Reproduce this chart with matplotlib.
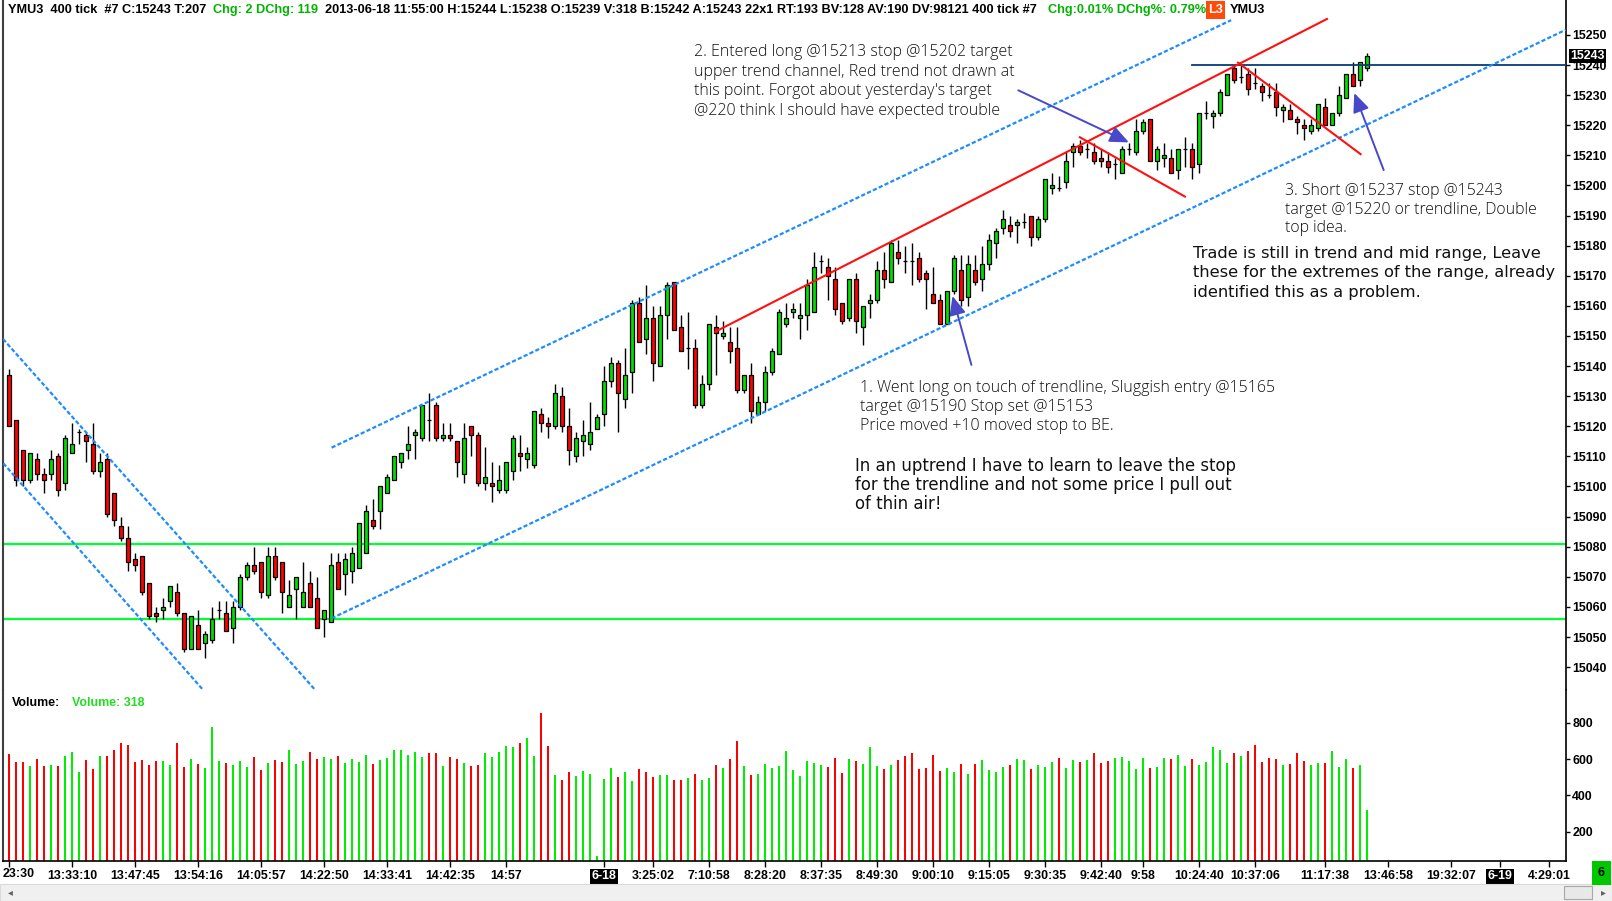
import numpy as np
import matplotlib
matplotlib.use("Agg")
import matplotlib.pyplot as plt
import matplotlib.transforms as mtransforms
from matplotlib.patches import FancyArrowPatch, Rectangle

W, H = 1612, 901

# ---- candle data (400 tick bars, YMU3) ----
opens = [15137, 15122, 15112, 15102, 15109, 15104, 15104, 15110, 15101, 15111,
         15118, 15117, 15114, 15105, 15109, 15098, 15087, 15083, 15076, 15077,
         15068, 15058, 15059, 15062, 15065, 15058, 15046, 15054, 15048, 15049,
         15059, 15058, 15053, 15060, 15070, 15074, 15075, 15064, 15077, 15075,
         15060, 15066, 15060, 15068, 15063, 15056, 15055, 15075, 15071, 15072,
         15073, 15078, 15089, 15092, 15098, 15102, 15108, 15112, 15117, 15116,
         15122, 15127, 15116, 15117, 15115, 15104, 15120, 15117, 15101, 15101,
         15099, 15099, 15105, 15111, 15109, 15107, 15124, 15121, 15120, 15130,
         15120, 15110, 15115, 15114, 15119, 15124, 15135, 15141, 15129, 15138,
         15161, 15149, 15156, 15140, 15157, 15168, 15153, 15146, 15146, 15127,
         15134, 15153, 15150, 15148, 15146, 15132, 15137, 15124, 15128, 15138,
         15144, 15154, 15158, 15156, 15157, 15158, 15175, 15173, 15169, 15161,
         15156, 15169, 15153, 15161, 15162, 15172, 15168, 15178, 15175, 15175,
         15176, 15171, 15164, 15162, 15154, 15165, 15172, 15163, 15172, 15169,
         15174, 15181, 15186, 15187, 15187, 15188, 15190, 15183, 15189, 15199,
         15199, 15201, 15211, 15213, 15212, 15211, 15209, 15208, 15207, 15204,
         15212, 15211, 15218, 15222, 15208, 15209, 15209, 15205, 15212, 15212,
         15207, 15224, 15223, 15224, 15230, 15239, 15236, 15237, 15234, 15233,
         15230, 15231, 15225, 15225, 15222, 15220, 15218, 15219, 15226, 15220,
         15224, 15229, 15237, 15235, 15239]
highs = [15139, 15122, 15112, 15111, 15111, 15106, 15112, 15111, 15117, 15121,
         15119, 15118, 15121, 15111, 15111, 15098, 15090, 15087, 15078, 15077,
         15068, 15060, 15063, 15067, 15068, 15058, 15057, 15059, 15052, 15060,
         15062, 15062, 15062, 15071, 15075, 15080, 15075, 15080, 15080, 15075,
         15069, 15070, 15075, 15072, 15070, 15059, 15078, 15078, 15078, 15080,
         15088, 15094, 15096, 15100, 15104, 15110, 15111, 15120, 15119, 15127,
         15131, 15128, 15121, 15121, 15115, 15121, 15120, 15118, 15113, 15108,
         15107, 15108, 15117, 15117, 15113, 15125, 15126, 15123, 15134, 15133,
         15126, 15118, 15122, 15128, 15124, 15140, 15143, 15142, 15146, 15162,
         15163, 15167, 15160, 15160, 15168, 15168, 15157, 15158, 15149, 15137,
         15154, 15157, 15155, 15153, 15153, 15137, 15141, 15130, 15140, 15146,
         15159, 15161, 15161, 15161, 15169, 15178, 15177, 15176, 15173, 15161,
         15169, 15171, 15160, 15164, 15175, 15178, 15182, 15182, 15180, 15181,
         15178, 15172, 15173, 15164, 15165, 15177, 15177, 15177, 15177, 15180,
         15184, 15186, 15192, 15190, 15189, 15191, 15190, 15190, 15202, 15204,
         15203, 15211, 15214, 15215, 15214, 15214, 15212, 15211, 15209, 15213,
         15214, 15222, 15222, 15222, 15213, 15214, 15212, 15212, 15216, 15214,
         15224, 15228, 15225, 15232, 15237, 15240, 15240, 15239, 15239, 15234,
         15234, 15234, 15227, 15227, 15223, 15222, 15222, 15227, 15229, 15224,
         15233, 15237, 15241, 15241, 15244]
lows = [15120, 15100, 15100, 15101, 15102, 15098, 15102, 15097, 15099, 15111,
        15114, 15108, 15104, 15103, 15090, 15087, 15082, 15072, 15072, 15064,
        15056, 15055, 15056, 15060, 15057, 15045, 15046, 15046, 15043, 15048,
        15056, 15052, 15048, 15059, 15069, 15071, 15063, 15063, 15069, 15058,
        15060, 15056, 15060, 15060, 15053, 15050, 15055, 15066, 15064, 15068,
        15073, 15078, 15086, 15086, 15098, 15102, 15106, 15109, 15109, 15115,
        15115, 15115, 15115, 15115, 15103, 15101, 15110, 15100, 15099, 15095,
        15098, 15098, 15102, 15105, 15106, 15106, 15118, 15116, 15119, 15118,
        15107, 15108, 15110, 15112, 15119, 15120, 15133, 15118, 15126, 15131,
        15148, 15144, 15135, 15140, 15149, 15152, 15145, 15139, 15126, 15126,
        15132, 15137, 15149, 15141, 15131, 15131, 15121, 15124, 15125, 15137,
        15144, 15153, 15156, 15149, 15152, 15158, 15171, 15162, 15157, 15154,
        15155, 15151, 15147, 15156, 15161, 15166, 15168, 15174, 15171, 15167,
        15168, 15159, 15161, 15154, 15154, 15164, 15160, 15160, 15167, 15165,
        15172, 15176, 15184, 15183, 15181, 15186, 15180, 15182, 15188, 15197,
        15198, 15199, 15206, 15210, 15209, 15207, 15206, 15204, 15202, 15204,
        15210, 15210, 15217, 15208, 15205, 15206, 15204, 15202, 15206, 15202,
        15204, 15222, 15219, 15223, 15230, 15234, 15234, 15230, 15232, 15228,
        15229, 15223, 15221, 15222, 15217, 15215, 15217, 15218, 15220, 15220,
        15223, 15229, 15233, 15233, 15238]
closes = [15120, 15102, 15102, 15111, 15104, 15102, 15109, 15099, 15116, 15114,
          15118, 15115, 15105, 15108, 15091, 15089, 15083, 15075, 15074, 15065,
          15057, 15057, 15060, 15067, 15058, 15046, 15057, 15046, 15051, 15056,
          15059, 15052, 15060, 15070, 15074, 15072, 15065, 15077, 15070, 15065,
          15064, 15070, 15065, 15060, 15053, 15059, 15074, 15066, 15076, 15078,
          15088, 15092, 15087, 15100, 15103, 15110, 15111, 15114, 15118, 15127,
          15122, 15116, 15117, 15116, 15108, 15116, 15117, 15101, 15103, 15100,
          15102, 15108, 15116, 15110, 15111, 15125, 15121, 15120, 15131, 15120,
          15112, 15116, 15117, 15118, 15123, 15135, 15141, 15131, 15137, 15161,
          15148, 15156, 15141, 15157, 15167, 15152, 15145, 15146, 15127, 15134,
          15154, 15151, 15151, 15145, 15132, 15137, 15125, 15128, 15138, 15145,
          15158, 15156, 15159, 15157, 15167, 15173, 15175, 15170, 15159, 15155,
          15169, 15155, 15160, 15162, 15172, 15169, 15181, 15176, 15175, 15175,
          15169, 15169, 15161, 15154, 15165, 15176, 15162, 15174, 15168, 15174,
          15182, 15185, 15189, 15185, 15188, 15188, 15183, 15189, 15202, 15200,
          15199, 15208, 15213, 15211, 15212, 15208, 15208, 15206, 15207, 15212,
          15212, 15218, 15221, 15208, 15212, 15210, 15204, 15212, 15212, 15206,
          15224, 15224, 15224, 15231, 15237, 15235, 15236, 15232, 15234, 15231,
          15230, 15226, 15226, 15222, 15221, 15219, 15220, 15227, 15220, 15224,
          15230, 15237, 15233, 15241, 15243]
volumes = [628, 586, 586, 562, 601, 562, 568, 562, 617, 639,
           529, 595, 546, 617, 617, 650, 689, 678, 584, 595,
           568, 590, 590, 568, 689, 557, 601, 573, 551, 777,
           590, 579, 568, 590, 557, 612, 540, 579, 595, 584,
           650, 573, 590, 639, 601, 612, 601, 617, 579, 601,
           584, 623, 573, 595, 606, 650, 650, 623, 639, 612,
           634, 634, 562, 612, 601, 579, 562, 568, 634, 612,
           639, 672, 667, 689, 716, 617, 856, 672, 513, 485,
           529, 507, 535, 518, 66, 491, 551, 502, 529, 480,
           546, 529, 502, 513, 513, 485, 485, 496, 518, 485,
           496, 568, 551, 601, 700, 562, 513, 518, 573, 551,
           562, 645, 540, 507, 590, 579, 568, 557, 606, 524,
           601, 590, 573, 667, 562, 546, 568, 595, 617, 634,
           546, 551, 623, 535, 551, 529, 573, 518, 573, 595,
           540, 529, 557, 568, 601, 595, 546, 568, 557, 584,
           606, 551, 595, 584, 595, 634, 579, 590, 606, 612,
           590, 546, 606, 551, 557, 606, 601, 623, 562, 601,
           568, 584, 667, 650, 579, 634, 617, 645, 678, 584,
           606, 601, 568, 573, 634, 590, 568, 579, 579, 645,
           557, 601, 551, 568, 318]
vol_dirs = ("rrrgrrgrgg" "grrgrrrrrr" "rrggrrgrgg" "grgggrrgrr" "gggrrggrgg"
            "ggrggggggg" "rrgrrgrrgg" "gggrggrrgr" "rggggggrgg" "rrrggrrgrg"
            "grgrrgrggg" "gggggggrrr" "grgggrgrrr" "rrrrggrgrg" "gggrggrggg"
            "rggrgrrrgg" "gggrggrggr" "gggggrgrrr" "rrgrrrggrg" "ggrgg")

price_ticks = list(range(15040, 15251, 10))
vol_ticks = [200, 400, 600, 800]
time_ticks = [1, 10, 19, 28, 37, 46, 55, 64, 72, 86, 93, 101, 109, 117, 125,
              133, 141, 149, 157, 163, 171, 179, 189, 198, 207, 214, 221]
time_labels = ["", "13:33:10", "13:47:45", "13:54:16", "14:05:57", "14:22:50",
               "14:33:41", "14:42:35", "14:57", "6-18", "3:25:02", "7:10:58",
               "8:28:20", "8:37:35", "8:49:30", "9:00:10", "9:15:05", "9:30:35",
               "9:42:40", "9:58", "10:24:40", "10:37:06", "11:17:38", "13:46:58",
               "19:32:07", "6-19", "4:29:01"]
date_labels = ["6-18", "6-19"]
last_price = 15243
green_levels = [15081, 15056]
top_level = 15240
top_level_start = 170.0

# drawn lines, (bar index list, price list)
chan_up = ([47.1, 175.6], [15112.9, 15254.9])
chan_lo = ([47.1, 223.4], [15056.2, 15251.7])
down_a = ([0.16, 45.3], [15149.0, 15031.0])
down_b = ([0.2, 28.6], [15107.7, 15032.8])
red_trend = ([101.9, 189.3], [15151.4, 15255.3])
red_down1 = ([154.0, 169.0], [15216.0, 15196.3])
red_down2 = ([176.6, 194.1], [15240.8, 15210.4])

arrows = [((145.2, 15231.6), (161.0, 15214.3)),
          ((138.5, 15140.4), (135.8, 15163.3)),
          ((197.4, 15205.1), (193.2, 15230.7))]

note2 = ["2. Entered long @15213 stop @15202 target",
         "upper trend channel, Red trend not drawn at",
         "this point. Forgot about yesterday's target",
         "@220 think I should have expected trouble"]
note1 = ["1. Went long on touch of trendline, Sluggish entry @15165",
         "target @15190 Stop set @15153",
         "Price moved +10 moved stop to BE."]
note_lesson = ["In an uptrend I have to learn to leave the stop",
               "for the trendline and not some price I pull out",
               "of thin air!"]
note3 = ["3. Short @15237 stop @15243",
         "target @15220 or trendline, Double",
         "top idea."]
note_trade = ["Trade is still in trend and mid range, Leave",
              "these for the extremes of the range, already",
              "identified this as a problem."]

header_parts = [("YMU3  400 tick  #7 C:15243 T:207", "black", 8),
                ("Chg: 2 DChg: 119", "#00B400", 213),
                ("2013-06-18 11:55:00 H:15244 L:15238 O:15239 V:318 B:15242 "
                 "A:15243 22x1 RT:193 BV:128 AV:190 DV:98121 400 tick #7", "black", 325),
                ("Chg:0.01% DChg%: 0.79%", "#00B400", 1048),
                ("YMU3", "black", 1230)]

UP, DOWN = "#00E000", "#FF0000"
BLUE = "#1E8CFF"
ARROW = "#4848C8"


def fx(px):
    return px / W


def fy(py):
    return 1 - py / H


fig = plt.figure(figsize=(W / 100, H / 100), dpi=100)
fig.patch.set_facecolor("white")
renderer = fig.canvas.get_renderer()

ax_p = fig.add_axes([fx(3), fy(690), (1566 - 3) / W, 690 / H])
ax_v = fig.add_axes([fx(3), fy(861), (1566 - 3) / W, (861 - 690) / H], sharex=ax_p)

xmin, xmax = (3 - 8.9) / 7 + 1, (1566 - 8.9) / 7 + 1
ax_p.set_xlim(xmin, xmax)
ax_p.set_ylim(15032.4, 15261.6)
ax_v.set_ylim(38.6, 981)

x = np.arange(1, len(opens) + 1)
o, h, l, c = map(np.array, (opens, highs, lows, closes))

# candles
ax_p.vlines(x, l, h, color="black", lw=1, zorder=3)
body_col = np.where(c > o, UP, np.where(c < o, DOWN, "black"))
ax_p.bar(x, c - o, bottom=o, width=0.62, color=body_col,
         edgecolor="black", linewidth=0.9, zorder=4)

# levels and trendlines
for lv in green_levels:
    ax_p.axhline(lv, color="#00FF33", lw=1.6, zorder=2)
ax_p.plot([top_level_start, xmax], [top_level, top_level], color="#0A3A78", lw=1.3, zorder=5)
for xs, ys in (chan_up, chan_lo, down_a, down_b):
    ax_p.plot(xs, ys, color=BLUE, lw=1.6, ls=(0, (1.9, 1.0)), zorder=5)
for xs, ys in (red_trend, red_down1, red_down2):
    ax_p.plot(xs, ys, color="#FF1010", lw=1.5, zorder=5)

for start, end in arrows:
    ax_p.add_patch(FancyArrowPatch(start, end, arrowstyle="-|>,head_length=1.15,head_width=0.5",
                                   mutation_scale=10, color=ARROW, lw=1.4,
                                   shrinkA=0, shrinkB=0, zorder=6))

# volume
vcol = ["#00EE00" if d == "g" else "#FF0000" for d in vol_dirs]
ax_v.bar(x, volumes, width=0.33, color=vcol, linewidth=0)

# axes styling
for ax in (ax_p, ax_v):
    ax.yaxis.tick_right()
    ax.spines["top"].set_visible(False)
    ax.spines["left"].set_color("#404040")
    ax.spines["left"].set_linewidth(1.5)
    ax.spines["right"].set_linewidth(1.2)
    ax.tick_params(axis="y", direction="out", length=3, width=1, pad=1.5,
                   labelsize=8.9, colors="black")
ax_p.spines["bottom"].set_visible(False)
ax_p.tick_params(axis="x", bottom=False, labelbottom=False)
ax_p.set_yticks(price_ticks)
ax_v.set_yticks(vol_ticks)
ax_v.set_xticks(time_ticks)
ax_v.set_xticklabels(time_labels)
ax_v.tick_params(axis="x", direction="out", length=4, width=1, pad=2.5, labelsize=8.9)
ax_v.spines["bottom"].set_linewidth(1.2)
for lab in ax_p.get_yticklabels() + ax_v.get_yticklabels() + ax_v.get_xticklabels():
    lab.set_fontweight("bold")
    lab.set_family("Liberation Sans")
for lab in ax_v.get_xticklabels():
    if lab.get_text() in date_labels:
        lab.set_color("white")
        lab.set_bbox(dict(boxstyle="square,pad=0.12", fc="black", ec="none"))
fig.text(fx(3), fy(874), "23:30", ha="left", va="center", fontsize=8.9,
         fontweight="bold", family="Liberation Sans")

# last price marker
trans = mtransforms.blended_transform_factory(ax_p.transAxes, ax_p.transData)
ax_p.text(1 + 4 / 1563, last_price, str(last_price), transform=trans, ha="left",
          va="center", fontsize=8.9, fontweight="bold", family="Liberation Sans",
          color="white", clip_on=False, zorder=10,
          bbox=dict(boxstyle="square,pad=0.12", fc="black", ec="none"))


def text_width(s, **kw):
    t = fig.text(0, 0, s, **kw)
    w = t.get_window_extent(renderer).width
    t.remove()
    return w


def fit_size(s, target, family, weight="normal"):
    return 10.0 * target / text_width(s, fontsize=10, family=family, fontweight=weight)


# header
hdr_family = ["Liberation Sans Narrow", "Liberation Sans"]
hsize = fit_size(header_parts[2][0], 716, hdr_family, "bold")
for txt, col, px in header_parts:
    fig.text(fx(px), fy(10), txt, ha="left", va="center", fontsize=hsize,
             family=hdr_family, color=col, fontweight="bold")
fig.text(fx(1215.5), fy(10), "L3", ha="center", va="center", fontsize=hsize,
         family=hdr_family, color="white", fontweight="bold",
         bbox=dict(boxstyle="square,pad=0.2", fc="#FF4A0A", ec="none"))

# volume label
fig.text(fx(12), fy(703), "Volume:", ha="left", va="center", fontsize=8.9,
         fontweight="bold", family="Liberation Sans")
fig.text(fx(72), fy(703), f"Volume: {volumes[-1]}", ha="left", va="center",
         fontsize=8.9, fontweight="bold", family="Liberation Sans", color="#22DD22")

# notes
thin = "Open Sans"
heavy = "DejaVu Sans"


def block(lines, px, py0, dy, target, family, color, weight="normal", ref=0):
    size = fit_size(lines[ref], target, family, weight)
    for i, line in enumerate(lines):
        fig.text(fx(px), fy(py0 + i * dy), line, ha="left", va="center",
                 fontsize=size, family=family, color=color, fontweight=weight)


block(note2, 694, 52, 19.7, 320, thin, "#111111", "light")
block(note1, 860, 388, 19.0, 419, thin, "#111111", "light")
block(note_lesson, 855, 466, 19.0, 382, heavy, "#111111")
block(note3, 1285, 191, 18.6, 252, thin, "#111111", "light", ref=1)
block(note_trade, 1193, 254, 19.0, 348, heavy, "#111111")

# bottom status box and scrollbar
fig.text(fx(1601.5), fy(873), "6", ha="center", va="center", fontsize=8.9,
         fontweight="bold", family="Liberation Sans",
         bbox=dict(boxstyle="square,pad=0.45", fc="#00C800", ec="none"))
fig.patches.append(Rectangle((0, 0), 1, 17 / H, transform=fig.transFigure,
                             fc="#F0F0F0", ec="#DADADA", lw=0.8, zorder=0))
fig.patches.append(Rectangle((fx(1564), fy(899)), 28 / W, 13 / H, transform=fig.transFigure,
                             fc="#E8E8E8", ec="#A8A8A8", lw=0.8, zorder=1))
fig.text(fx(10), fy(892), "\u25c2", ha="center", va="center", fontsize=7, color="#606060")
fig.text(fx(1603), fy(892), "\u25b8", ha="center", va="center", fontsize=7, color="#606060")

fig.savefig("out.png", dpi=100, facecolor="white")
